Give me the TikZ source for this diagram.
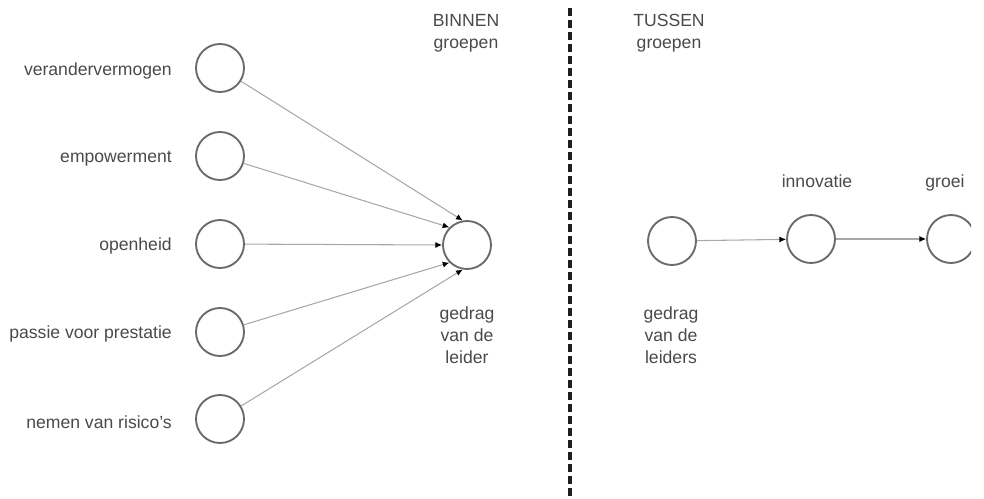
\documentclass[tikz,border=0pt]{standalone}
\usepackage{fontspec}
\setmainfont{Liberation Sans}
\usetikzlibrary{arrows.meta}
\definecolor{txt}{HTML}{4A4A4A}
\definecolor{ring}{HTML}{6A6A6A}
\definecolor{conn}{HTML}{A8A8A8}
\begin{document}
\begin{tikzpicture}[x=0.75pt,y=-0.75pt,
  ball/.style={circle,draw=ring,line width=1.4pt,minimum size=36pt,inner sep=0pt},
  lbl/.style={text=txt,font=\fontsize{13.2}{16.3}\selectfont,inner sep=0pt},
  lbls/.style={lbl,align=center},
  conarrow/.style={draw=conn,line width=0.8pt,-{Latex[length=5pt,width=4.5pt,color=black]}},
  divider/.style={draw=black!88,line width=2.4pt,dash pattern=on 6pt off 3pt}]
\useasboundingbox (0,0) rectangle (984,499);
% left circles
\node[ball] (v) at (220,68) {};
\node[ball] (e) at (220,156) {};
\node[ball] (o) at (220,244) {};
\node[ball] (p) at (220,332) {};
\node[ball] (n) at (220,419) {};
\node[lbl,anchor=east] (tv) at (172,71) {verandervermogen};
\node[lbl,anchor=east] (te) at (172,159) {empowerment};
\node[lbl,anchor=east] (to) at (172,246) {openheid};
\node[lbl,anchor=east] (tp) at (172,334) {passie voor prestatie};
\node[lbl,anchor=east] (tn) at (172,422) {nemen van risico's};
% central circle
\node[ball] (c) at (467,245) {};
\node[lbls] (tc) at (467,335) {gedrag\\van de\\leider};
\node[lbls] (tb) at (466,33) {BINNEN\\groepen};
\draw[conarrow] (v) -- (c.100);
\draw[conarrow] (e) -- (c.135);
\draw[conarrow] (o) -- (c.180);
\draw[conarrow] (p) -- (c.225);
\draw[conarrow] (n) -- (c.260);
% divider
\coordinate (d1) at (570,8);
\coordinate (d2) at (570,499);
\draw[divider] (d1) -- (d2);
% right part
\node[lbls] (tt) at (669,33) {TUSSEN\\groepen};
\node[ball] (g) at (672,241) {};
\node[lbls] (tg) at (671,335) {gedrag\\van de\\leiders};
\node[ball] (i) at (811,239) {};
\node[lbl,anchor=base] (ti) at (817,187) {innovatie};
\begin{scope}
\clip (900,150) rectangle (971,300);
\node[ball] (gr) at (951,239) {};
\end{scope}
\node[lbl,anchor=base] (tgr) at (945,187) {groei};
\draw[conarrow] (g) -- (i);
\draw[conarrow] (i) -- (gr);
\end{tikzpicture}
\end{document}
